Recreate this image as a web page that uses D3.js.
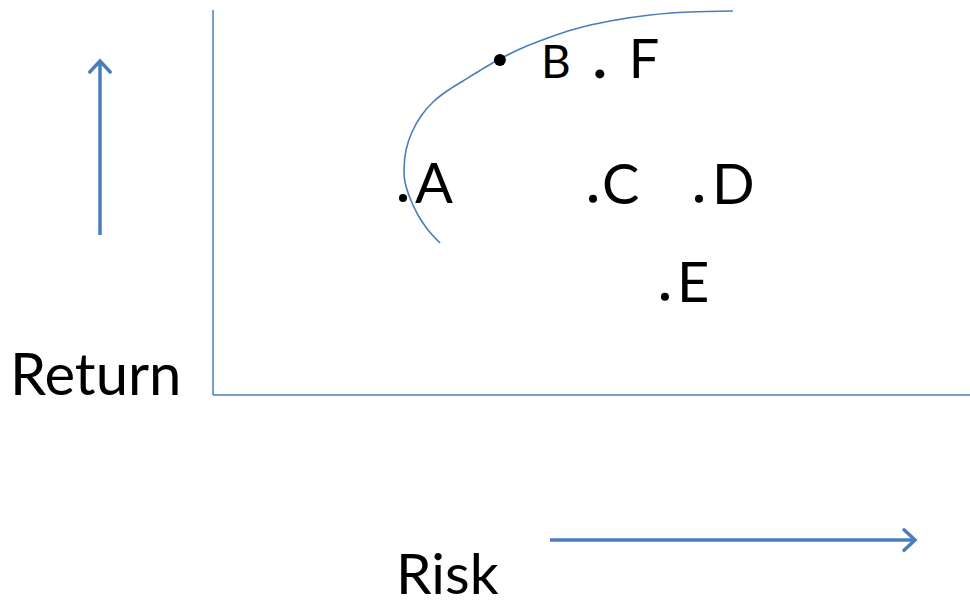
<!DOCTYPE html>
<html>
<head>
<meta charset="utf-8">
<script src="https://cdn.jsdelivr.net/npm/d3@7"></script>
<style>
  html, body { margin: 0; padding: 0; background: #fff; }
  svg { display: block; }
  text { font-family: Lato, "Noto Sans", sans-serif; fill: #000; }
</style>
</head>
<body>
<div id="chart"></div>
<script>
// portfolios (risk / return, arbitrary units 0-100)
var pointNames  = ["A", "B", "C", "D", "E", "F"];
var pointRisk   = [25.1, 37.9, 50.2, 64.2, 59.7, 51.1];
var pointReturn = [51.2, 87.0, 51.0, 51.0, 25.5, 83.4];

// efficient frontier curve
var frontierRisk   = [30.0, 28.4, 27.08, 26.02, 25.36, 25.23, 25.5, 26.29, 27.48, 29.06, 30.91, 33.03, 35.27, 37.65, 40.55, 43.86, 47.82, 52.44, 57.73, 63.01, 68.69];
var frontierReturn = [39.48, 42.86, 46.75, 51.17, 55.32, 58.44, 63.64, 68.31, 72.47, 76.1, 78.96, 81.56, 84.29, 87.01, 89.87, 92.47, 95.06, 97.14, 98.7, 99.48, 99.74];

var axisTitles = ["Return", "Risk"];

var width = 970, height = 606;
var blue = "#4a7ebb";

var svg = d3.select("#chart")
    .append("svg")
    .attr("width", width)
    .attr("height", height);

var x = d3.scaleLinear().domain([0, 100]).range([213, 970]);
var y = d3.scaleLinear().domain([0, 100]).range([395, 10]);

// axes (plain lines, no ticks)
svg.append("line")
    .attr("x1", x(0)).attr("y1", y(0))
    .attr("x2", x(0)).attr("y2", y(100))
    .attr("stroke", blue).attr("stroke-width", 1.5);
svg.append("line")
    .attr("x1", x(0)).attr("y1", y(0))
    .attr("x2", x(100)).attr("y2", y(0))
    .attr("stroke", blue).attr("stroke-width", 1.5);

// frontier
var frontier = d3.zip(frontierRisk, frontierReturn);
svg.append("path")
    .datum(frontier)
    .attr("fill", "none")
    .attr("stroke", blue)
    .attr("stroke-width", 1.6)
    .attr("d", d3.line()
        .x(function (d) { return x(d[0]); })
        .y(function (d) { return y(d[1]); })
        .curve(d3.curveCatmullRom.alpha(0.5)));

// label look per point: dot radius, letter offset, font size
var labelStyle = {
    A: {r: 4,   dx: 12, dy: 5,  size: 56},
    B: {r: 6,   dx: 41, dy: 18, size: 46},
    C: {r: 4,   dx: 9,  dy: 5,  size: 56},
    D: {r: 4,   dx: 13, dy: 5,  size: 56},
    E: {r: 4,   dx: 12, dy: 5,  size: 56},
    F: {r: 4.5, dx: 29, dy: 4,  size: 54}
};

var points = pointNames.map(function (n, i) {
    return {name: n, risk: pointRisk[i], ret: pointReturn[i]};
});

var g = svg.append("g").selectAll("g")
    .data(points)
    .enter()
    .append("g");

g.append("circle")
    .attr("cx", function (d) { return x(d.risk); })
    .attr("cy", function (d) { return y(d.ret); })
    .attr("r", function (d) { return labelStyle[d.name].r; })
    .attr("fill", "#000");

g.append("text")
    .attr("x", function (d) { return x(d.risk) + labelStyle[d.name].dx; })
    .attr("y", function (d) { return y(d.ret) + labelStyle[d.name].dy; })
    .attr("font-size", function (d) { return labelStyle[d.name].size + "px"; })
    .text(function (d) { return d.name; });

// direction arrows
var arrow = function (x1, y1, x2, y2) {
    svg.append("line")
        .attr("x1", x1).attr("y1", y1)
        .attr("x2", x2).attr("y2", y2)
        .attr("stroke", blue).attr("stroke-width", 3.5);
    var a = Math.atan2(y2 - y1, x2 - x1), L = 15, w = 0.75;
    var p = [
        [x2 - L * Math.cos(a - w), y2 - L * Math.sin(a - w)],
        [x2, y2],
        [x2 - L * Math.cos(a + w), y2 - L * Math.sin(a + w)]
    ];
    svg.append("path")
        .attr("d", d3.line()(p))
        .attr("fill", "none")
        .attr("stroke", blue)
        .attr("stroke-width", 3.5)
        .attr("stroke-linecap", "round")
        .attr("stroke-linejoin", "miter");
};
arrow(100, 235, 100, 61);
arrow(550, 540, 915, 540);

// axis titles
svg.append("text")
    .attr("x", 10).attr("y", 395)
    .attr("font-size", "58px")
    .text(axisTitles[0]);
svg.append("text")
    .attr("x", 396).attr("y", 594)
    .attr("font-size", "57px")
    .text(axisTitles[1]);
</script>
</body>
</html>
